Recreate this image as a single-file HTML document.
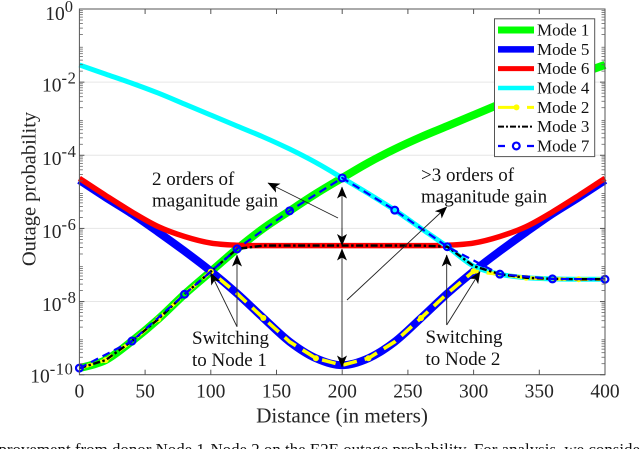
<!DOCTYPE html>
<html><head><meta charset="utf-8"><title>Outage probability vs distance</title>
<style>
html,body{margin:0;padding:0;background:#fff;width:640px;height:449px;overflow:hidden}
svg{display:block;font-family:"Liberation Serif",serif}
</style></head>
<body>
<svg id="chart" width="640" height="449" viewBox="0 0 640 449" xmlns="http://www.w3.org/2000/svg">
<defs>
<marker id="ah" viewBox="0 0 12 10" refX="11.5" refY="5" markerWidth="12" markerHeight="10" markerUnits="userSpaceOnUse" orient="auto"><path d="M0 0L12 5L0 10L3 5Z" fill="#000"/></marker>
</defs>
<g id="grid"></g>
<g id="series"></g>
<g id="axes"></g>
<g id="legend"></g>
<g id="annotations"></g>
<text x="-19.4" y="455" font-size="16.9" fill="#111">improvement from donor Node 1-Node 2 on the E2E outage probability. For analysis, we consider</text>
</svg>
<script>
// ---- chart data (log10 of outage probability, sampled at distances) ----
const distances = [0,20,40,60,80,100,120,140,160,180,200,220,240,260,280,300,320,340,360,380,400];
const mode1 = [-9.82,-9.6,-9.08,-8.48,-7.8,-7.18,-6.56,-6.0,-5.52,-5.05,-4.62,-4.2,-3.83,-3.5,-3.2,-2.9,-2.6,-2.3,-2.03,-1.78,-1.53];
const mode5 = [-4.68,-5.15,-5.6,-6.1,-6.62,-7.17,-7.78,-8.45,-9.1,-9.55,-9.74,-9.55,-9.1,-8.45,-7.78,-7.17,-6.62,-6.1,-5.6,-5.15,-4.68];
const mode6 = [-4.63,-5.1,-5.55,-5.95,-6.22,-6.4,-6.46,-6.47,-6.47,-6.47,-6.47,-6.47,-6.47,-6.47,-6.46,-6.4,-6.22,-5.95,-5.55,-5.1,-4.63];
const mode4 = [-1.53,-1.78,-2.03,-2.3,-2.6,-2.9,-3.2,-3.5,-3.83,-4.2,-4.62,-5.05,-5.5,-6.0,-6.5,-7.03,-7.25,-7.35,-7.38,-7.39,-7.39];
const mode2 = [-9.82,-9.6,-9.08,-8.48,-7.8,-7.18,-7.78,-8.45,-9.1,-9.55,-9.74,-9.55,-9.1,-8.45,-7.78,-7.17,-7.25,-7.35,-7.38,-7.39,-7.39];
const mode3 = [-9.82,-9.6,-9.08,-8.48,-7.8,-7.18,-6.56,-6.47,-6.47,-6.47,-6.47,-6.47,-6.47,-6.47,-6.5,-7.03,-7.25,-7.35,-7.38,-7.39,-7.39];
const mode7X = [0,40,80,120,160,200,240,280,320,360,400];
const mode7 = [-9.82,-9.08,-7.8,-6.56,-5.52,-4.62,-5.5,-6.5,-7.25,-7.38,-7.39];
const xTicks = [0,50,100,150,200,250,300,350,400];
const yTicks = [0,-2,-4,-6,-8,-10];
const minorDecades = [-10,-9,-8,-7,-6,-5,-4,-3,-2,-1];
const minorMultipliers = [2,3,4,5,6,7,8,9];
const legendLabels = ['Mode 1','Mode 5','Mode 6','Mode 4','Mode 2','Mode 3','Mode 7'];

const L=79.4,R=605,T=9,B=374.7;
const sx=v=>L+(v-0)/(400-0)*(R-L);
const sy=v=>T+(0-v)/10*(B-T);
const NS='http://www.w3.org/2000/svg';
const ink='#262626';
function mk(tag,attrs,parent,txt){
  const el=document.createElementNS(NS,tag);
  for(const k in attrs)el.setAttribute(k,attrs[k]);
  if(txt!==undefined)el.textContent=txt;
  parent.appendChild(el);
  return el;
}
function smooth(xs,ys){
  const p=xs.map((x,i)=>[sx(x),sy(ys[i])]);
  let d='M'+p[0][0].toFixed(2)+' '+p[0][1].toFixed(2);
  for(let i=0;i<p.length-1;i++){
    const a=p[Math.max(i-1,0)],b=p[i],c=p[i+1],e=p[Math.min(i+2,p.length-1)];
    const c1=[b[0]+(c[0]-a[0])/6,b[1]+(c[1]-a[1])/6],c2=[c[0]-(e[0]-b[0])/6,c[1]-(e[1]-b[1])/6];
    d+='C'+c1[0].toFixed(2)+' '+c1[1].toFixed(2)+' '+c2[0].toFixed(2)+' '+c2[1].toFixed(2)+' '+c[0].toFixed(2)+' '+c[1].toFixed(2);
  }
  return d;
}
function straight(xs,ys){
  return xs.map((x,i)=>(i?'L':'M')+sx(x).toFixed(2)+' '+sy(ys[i]).toFixed(2)).join('');
}
const gGrid=document.getElementById('grid'),gSeries=document.getElementById('series'),gAxes=document.getElementById('axes'),gLegend=document.getElementById('legend'),gAnn=document.getElementById('annotations');

// gridlines
yTicks.forEach(t=>{
  if(t===0||t===-10)return;
  const ln=mk('line',{x1:L,x2:R,y1:sy(t),y2:sy(t),stroke:'#e6e6e6','stroke-width':1},gGrid);
  
  
});

// series
const s1=mk('path',{d:smooth(distances,mode1),fill:'none',stroke:'#00ff00','stroke-width':8},gSeries);


const s5=mk('path',{d:smooth(distances,mode5),fill:'none',stroke:'#0000ff','stroke-width':8},gSeries);


const s6=mk('path',{d:smooth(distances,mode6),fill:'none',stroke:'#ff0000','stroke-width':5.5},gSeries);


const s4=mk('path',{d:smooth(distances,mode4),fill:'none',stroke:'#00ffff','stroke-width':5},gSeries);


const s2=mk('path',{d:straight(distances,mode2),fill:'none',stroke:'#ffff00','stroke-width':3.6,'stroke-dasharray':'14 8'},gSeries);


distances.forEach((x,i)=>{
  if(i%2===0)return;
  const m=mk('circle',{cx:sx(x),cy:sy(mode2[i]),r:3,fill:'#ffff00'},gSeries);
  
  
});
const s3=mk('path',{d:straight(distances,mode3),fill:'none',stroke:'#000','stroke-width':2.4,'stroke-dasharray':'7 2.5 2.5 2.5'},gSeries);


const s7=mk('path',{d:straight(mode7X,mode7),fill:'none',stroke:'#0000ff','stroke-width':2.2,'stroke-dasharray':'8 5'},gSeries);


mode7X.forEach((x,i)=>{
  const m=mk('circle',{cx:sx(x),cy:sy(mode7[i]),r:3.4,fill:'none',stroke:'#0000ff','stroke-width':2.2},gSeries);
  
  
});

// axes
const box=mk('rect',{x:L,y:T,width:R-L,height:B-T,fill:'none',stroke:'#555','stroke-width':1},gAxes);


xTicks.forEach(t=>{
  const x=sx(t);
  if(t!==0&&t!==400){
    const a=mk('line',{x1:x,x2:x,y1:B,y2:B-5,stroke:'#555','stroke-width':1},gAxes);
    
    
    const b=mk('line',{x1:x,x2:x,y1:T,y2:T+5,stroke:'#555','stroke-width':1},gAxes);
    
    
  }
  const lab=mk('text',{x:x,y:397.7,'font-size':19.5,'text-anchor':'middle',fill:ink},gAxes,String(t));
  
  
});
minorDecades.forEach(d=>{
  minorMultipliers.forEach(k=>{
    const my=sy(d+Math.log10(k));
    [[L,L+3.5],[R,R-3.5]].forEach(p=>{
      const a=mk('line',{x1:p[0],x2:p[1],y1:my,y2:my,stroke:'#666','stroke-width':0.8},gAxes);
      
      
    });
  });
});
yTicks.forEach(t=>{
  const y=sy(t);
  [[L,L+5],[R,R-5]].forEach(p=>{
    const a=mk('line',{x1:p[0],x2:p[1],y1:y,y2:y,stroke:'#555','stroke-width':1},gAxes);
    
    
  });
  const lab=mk('text',{x:t===0?73:(t===-10?73.5:76.5),y:y+(t===0?11:t===-10?8:9.5),'font-size':19.5,'text-anchor':'end',fill:ink},gAxes);
  
  
  mk('tspan',{},lab,'10');
  mk('tspan',{dy:-8,'font-size':16.5,'letter-spacing':t<0?'0.6':'0'},lab,String(t));
});
const xt=mk('text',{x:342,y:422.7,'font-size':21.2,'text-anchor':'middle',fill:ink},gAxes,'Distance (in meters)');


const yt=mk('text',{x:0,y:0,'font-size':20.5,'text-anchor':'middle',fill:ink,transform:'translate(35.5 189) rotate(-90)'},gAxes,'Outage probability');



// legend
const lb=mk('rect',{x:494.5,y:18.8,width:100.2,height:137.8,fill:'#fff',stroke:'#555','stroke-width':1},gLegend);


const legendStyles=[
 {c:'#00ff00',w:7},{c:'#0000ff',w:6.5},{c:'#ff0000',w:5},{c:'#00ffff',w:4.5},
 {c:'#ffff00',w:3,dash:'20 9 7 0'},{c:'#000',w:2,dash:'6 2 2 2'},{c:'#0000ff',w:2.2,dash:'7 22 7'}];
legendLabels.forEach((name,i)=>{
  const y=30+i*19.33;
  const st=legendStyles[i];
  const a={x1:498,x2:534,y1:y,y2:y,stroke:st.c,'stroke-width':st.w};
  if(st.dash)a['stroke-dasharray']=st.dash;
  const sw=mk('line',a,gLegend);
  
  
  if(name==='Mode 2'){
    const m=mk('circle',{cx:516.5,cy:y,r:3,fill:'#ffff00'},gLegend);
    
    
  }
  if(name==='Mode 7'){
    const m=mk('circle',{cx:516.3,cy:y,r:3.4,fill:'#fff',stroke:'#0000ff','stroke-width':2.2},gLegend);
    
    
  }
  const t=mk('text',{x:537,y:y+5.5,'font-size':17,fill:'#111'},gLegend,name);
  
  
});

// annotations
const arrows=[[338,218,268,183],[342,243,342,187],[342,228,342,245.5],[342,300,342,249],[342,300,342,367],
 [347,300,446.7,207],[237,326.7,237,255],[237,326.7,210.7,273],[446.7,325,446.7,255],[446.7,325,480,271.7]];
arrows.forEach(a=>{
  const l=mk('line',{x1:a[0],y1:a[1],x2:a[2],y2:a[3],stroke:'#222','stroke-width':0.9,'marker-end':'url(#ah)'},gAnn);
  
  
});
const notes=[['2 orders of',152,185],['maganitude gain',152,206.5],['>3 orders of',421,181],['maganitude gain',421,202.5],
 ['Switching',192,344],['to Node 1',192,366],['Switching',425.5,343],['to Node 2',425.5,365]];
notes.forEach(n=>{
  const t=mk('text',{x:n[1],y:n[2],'font-size':19,fill:'#111'},gAnn,n[0]);
  
  
});
</script>
</body></html>
